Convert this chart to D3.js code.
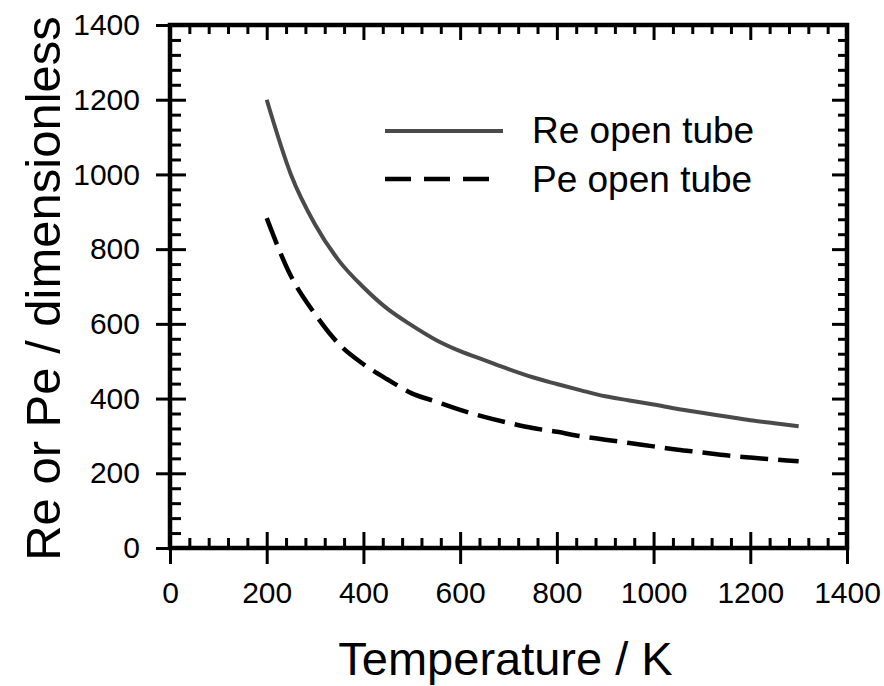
<!DOCTYPE html>
<html>
<head>
<meta charset="utf-8">
<script src="https://cdn.jsdelivr.net/npm/d3@7"></script>
<style>
  body { margin: 0; background: #fff; }
  svg text { font-family: "Liberation Sans", Arial, sans-serif; fill: #000; }
</style>
</head>
<body>
<div id="chart"></div>
<script>
// temperature (K) and the two dimensionless numbers
const temps = [200, 250, 300, 350, 400, 450, 500, 550, 600, 650, 700, 750, 800, 850, 900, 950, 1000, 1050, 1100, 1150, 1200, 1250, 1300];
const reOpen = [1200, 1000, 866, 768, 698, 640, 596, 557, 527, 503, 479, 457, 439, 422, 406, 395, 384, 372, 362, 352, 342, 334, 326];
const peOpen = [883, 728, 626, 545, 492, 451, 414, 392, 370, 351, 335, 321, 311, 299, 290, 281, 272, 263, 256, 248, 242, 237, 232];

const xTicks = [0, 200, 400, 600, 800, 1000, 1200, 1400];
const yTicks = [0, 200, 400, 600, 800, 1000, 1200, 1400];
const legendLabels = ["Re open tube", "Pe open tube"];

const W = 884, H = 686;
const margin = { top: 25, right: 37, bottom: 138, left: 170 };
const width = W - margin.left - margin.right,
  height = H - margin.top - margin.bottom;

const x = d3.scaleLinear().domain([0, 1400]).range([0, width]);
const y = d3.scaleLinear().domain([0, 1400]).range([height, 0]);

const xMinor = d3.range(0, 1401, 40).filter(v => v % 200 !== 0);
const yMinor = d3.range(0, 1401, 40).filter(v => v % 200 !== 0);

const svg = d3.select("#chart").append("svg")
  .attr("width", W)
  .attr("height", H);

const g = svg.append("g")
  .attr("transform", "translate(" + margin.left + "," + margin.top + ")");

// helper: draw an axis and style its ticks
function addAxis(axis, transform, size) {
  const a = g.append("g").attr("transform", transform).call(axis);
  a.select(".domain").remove();
  a.selectAll(".tick line").attr("stroke", "#000").attr("stroke-width", size);
  a.selectAll(".tick text").style("font-size", "30px");
  return a;
}

const fmt = d3.format("d");

// bottom: major ticks crossing, minor inside
addAxis(d3.axisBottom(x).tickValues(xTicks).tickSize(16).tickPadding(18).tickFormat(fmt), "translate(0," + height + ")", 3);
addAxis(d3.axisBottom(x).tickValues(xTicks).tickSize(-16).tickFormat(""), "translate(0," + height + ")", 3);
addAxis(d3.axisBottom(x).tickValues(xMinor).tickSize(-10).tickFormat(""), "translate(0," + height + ")", 3);
// left
addAxis(d3.axisLeft(y).tickValues(yTicks).tickSize(14).tickPadding(16).tickFormat(fmt), "translate(0,0)", 3);
addAxis(d3.axisLeft(y).tickValues(yTicks).tickSize(-16).tickFormat(""), "translate(0,0)", 3);
addAxis(d3.axisLeft(y).tickValues(yMinor).tickSize(-11).tickFormat(""), "translate(0,0)", 3);
// top and right: inside only
addAxis(d3.axisTop(x).tickValues(xTicks).tickSize(-15).tickFormat(""), "translate(0,0)", 3);
addAxis(d3.axisTop(x).tickValues(xMinor).tickSize(-9).tickFormat(""), "translate(0,0)", 3);
addAxis(d3.axisRight(y).tickValues(yTicks).tickSize(-15).tickFormat(""), "translate(" + width + ",0)", 3);
addAxis(d3.axisRight(y).tickValues(yMinor).tickSize(-9).tickFormat(""), "translate(" + width + ",0)", 3);

// frame
g.append("rect")
  .attr("width", width)
  .attr("height", height)
  .attr("fill", "none")
  .attr("stroke", "#000")
  .attr("stroke-width", 4.5);

const line = d3.line()
  .x((d, i) => x(temps[i]))
  .y(d => y(d))
  .curve(d3.curveMonotoneX);

g.append("path")
  .datum(reOpen)
  .attr("fill", "none")
  .attr("stroke", "#4a4a4a")
  .attr("stroke-width", 4)
  .attr("d", line);

g.append("path")
  .datum(peOpen)
  .attr("fill", "none")
  .attr("stroke", "#000")
  .attr("stroke-width", 4.5)
  .attr("stroke-dasharray", "28,10")
  .attr("d", line);

// legend
const legend = g.append("g").attr("transform", "translate(215,106)");
legend.append("line")
  .attr("x1", 0).attr("x2", 118).attr("y1", 0).attr("y2", 0)
  .attr("stroke", "#4a4a4a").attr("stroke-width", 4);
legend.append("line")
  .attr("x1", 0).attr("x2", 105).attr("y1", 48).attr("y2", 48)
  .attr("stroke", "#000").attr("stroke-width", 4.5)
  .attr("stroke-dasharray", "26,13");
legend.selectAll("text.lab")
  .data(legendLabels)
  .enter().append("text")
  .attr("class", "lab")
  .attr("x", 147)
  .attr("y", (d, i) => 12 + i * 49)
  .style("font-size", "37px")
  .text(d => d);

// axis titles
svg.append("text")
  .attr("x", margin.left + width / 2 - 3)
  .attr("y", 675)
  .attr("text-anchor", "middle")
  .style("font-size", "47px")
  .text("Temperature / K");

svg.append("text")
  .attr("transform", "translate(60," + (margin.top + height / 2 + 2) + ") rotate(-90)")
  .attr("text-anchor", "middle")
  .style("font-size", "49px")
  .text("Re or Pe / dimensionless");
</script>
</body>
</html>
